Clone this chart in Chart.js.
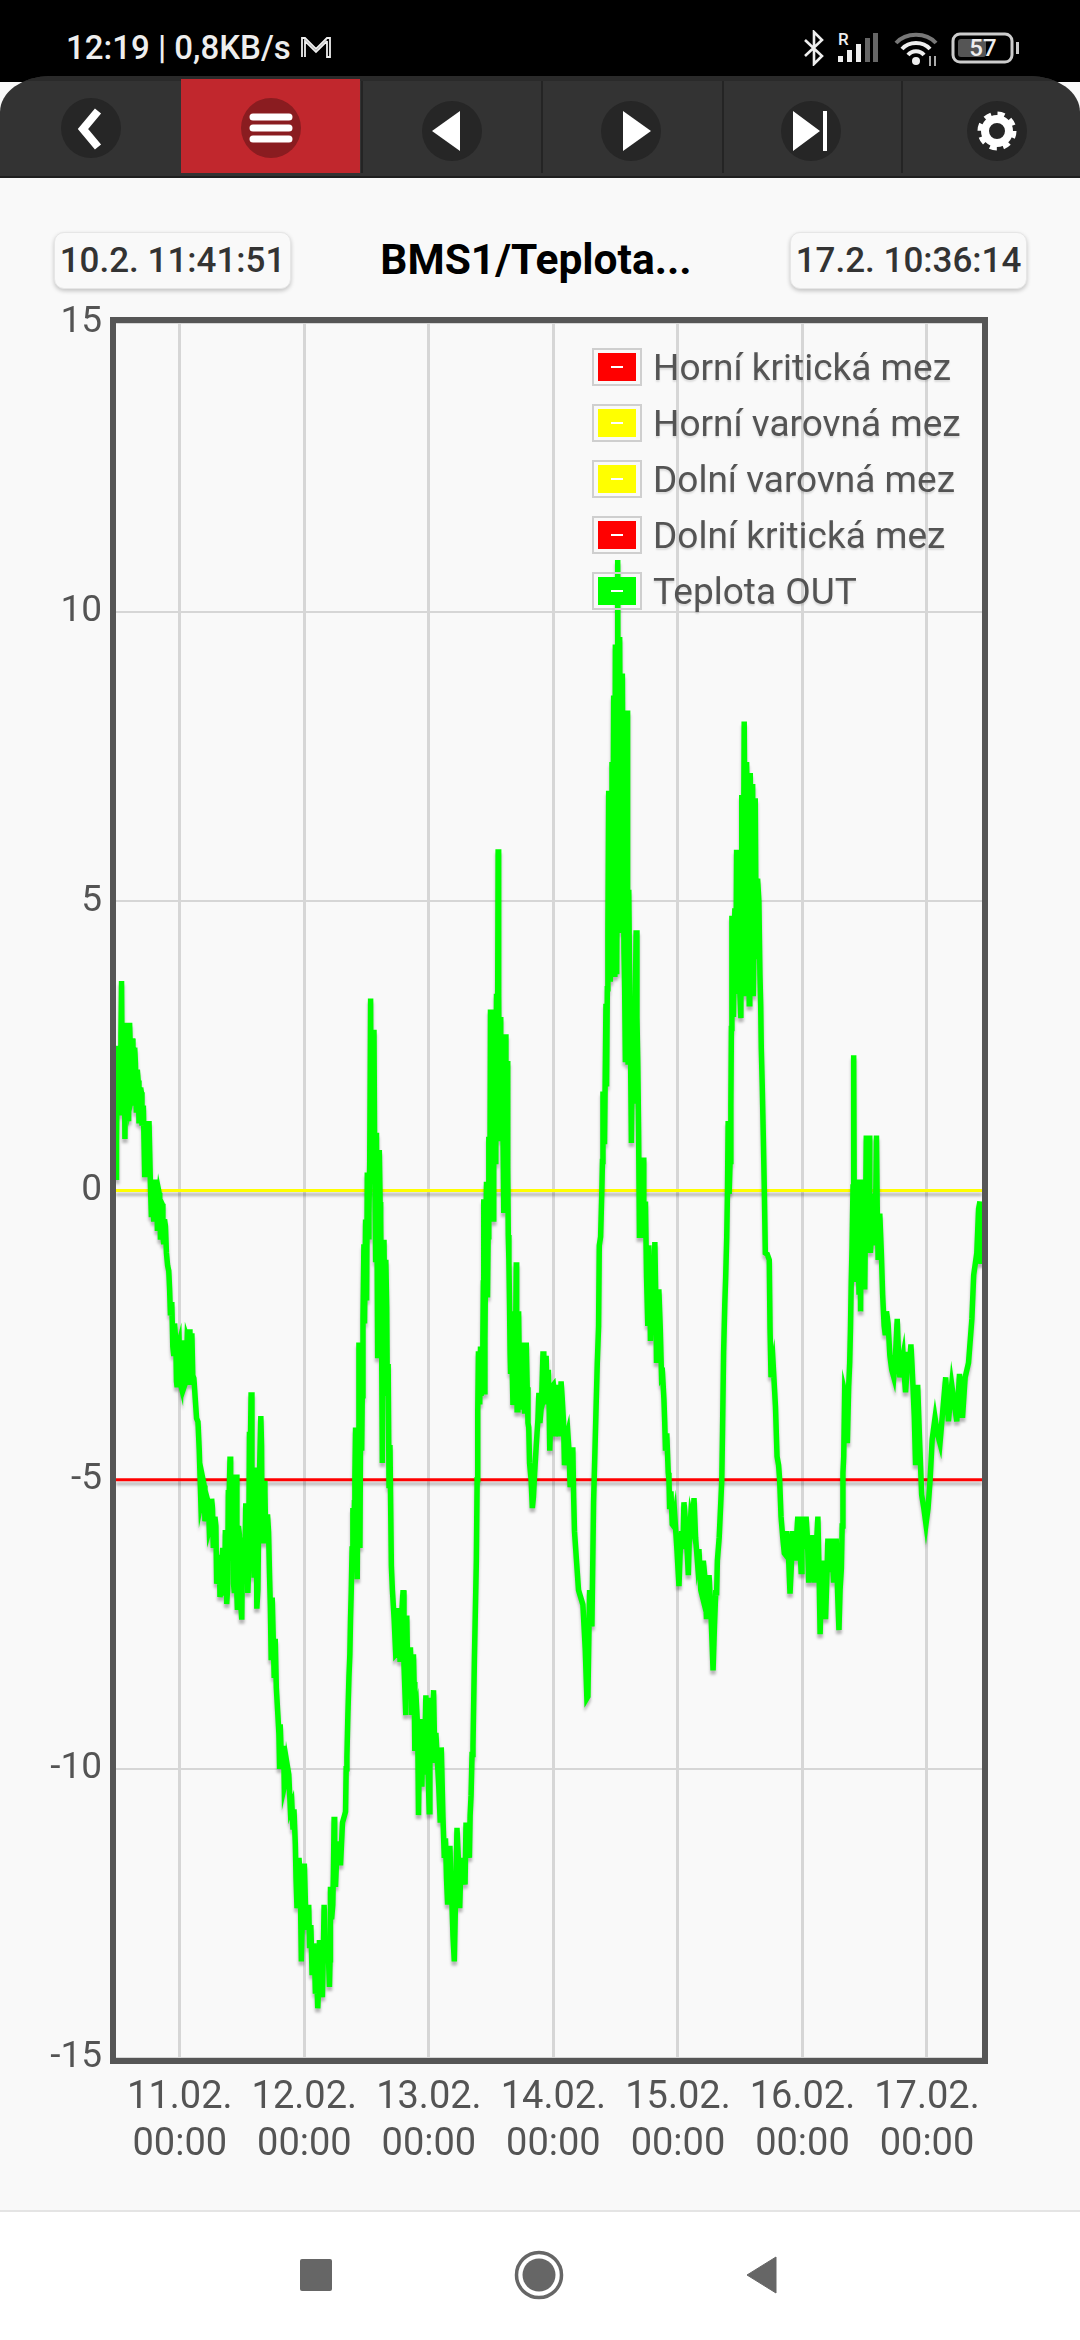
<!DOCTYPE html>
<html lang="cs">
<head>
<meta charset="utf-8">
<title>BMS1/Teplota</title>
<script src="https://cdn.jsdelivr.net/npm/chart.js@4"></script>
<style>
html, body { margin: 0; padding: 0; width: 1080px; height: 2340px; overflow: hidden; background: #f9f9f9; font-family: Roboto, sans-serif; }
.abs, svg.abs { position: absolute; }
#statusbar { left: 0; top: 0; width: 1080px; height: 82px; background: #000; }
#statustext { left: 66px; top: 28px; color: #eee; font-size: 33px; font-weight: 500; line-height: 40px; white-space: nowrap; }
#toolbar { left: 0; top: 76px; width: 1080px; height: 102px; background: #333; border-radius: 50px 50px 0 0 / 36px 36px 0 0; border-bottom: 2px solid #1f1f1f; box-sizing: border-box; overflow: hidden; }
#strip { left: 0; top: 0; width: 1080px; height: 5px; background: #2a2a2a; }
.divider { top: 5px; width: 2px; height: 92px; background: #242424; }
#red { left: 181px; top: 3px; width: 179px; height: 94px; background: #c1272d; }
.datebtn { top: 232px; width: 235px; height: 55px; border: 1px solid #e6e6e6; border-radius: 10px; box-shadow: 0 2px 4px rgba(0,0,0,.22); background: #f9f9f9; color: #333; font-size: 35px; font-weight: 500; line-height: 55px; text-align: center; white-space: nowrap; }
#title { left: 340px; width: 392px; top: 232px; text-align: center; color: #000; font-size: 42.5px; font-weight: 700; line-height: 56px; white-space: nowrap; }
#graf { position: absolute; left: 0; top: 282px; }
#legenda { left: 592px; top: 339px; }
.radek { display: flex; align-items: center; height: 56px; color: #545454; font-size: 37px; text-shadow: 0 2px 2px rgba(0,0,0,.12); white-space: nowrap; }
.box { box-sizing: border-box; width: 50px; height: 38px; border: 2px solid #cfcfcf; padding: 3px 4px; margin-right: 11px; }
.fill { width: 38px; height: 28px; position: relative; }
.fill i { position: absolute; left: 13px; top: 13px; width: 12px; height: 2px; background: #fff; }
#navbar { left: 0; top: 2210px; width: 1080px; height: 130px; background: #fff; border-top: 2px solid #e4e4e4; box-sizing: border-box; }
</style>
</head>
<body>
<div id="statusbar" class="abs"></div>
<div id="statustext" class="abs">12:19 | 0,8KB/s</div>
<svg class="abs" style="left:300px;top:35px" width="32" height="24" viewBox="0 0 32 24"><path d="M2 22V3h3l11 11L27 3h3v19h-3V6M5 22V6l11 11L27 6" fill="none" stroke="#eee" stroke-width="1.8"/></svg>
<svg class="abs" style="left:802px;top:30px" width="24" height="36" viewBox="0 0 24 36"><path d="M3 10l17 16-8 8V2l8 8L3 26" fill="none" stroke="#eee" stroke-width="2.6"/></svg>
<svg class="abs" style="left:836px;top:30px" width="44" height="34" viewBox="0 0 44 34"><text x="2" y="15" fill="#eee" font-family="Roboto" font-size="17" font-weight="500">R</text><rect x="2" y="26" width="5" height="6" fill="#eee"/><rect x="11" y="20" width="5" height="12" fill="#eee"/><rect x="20" y="14" width="5" height="18" fill="#eee"/><rect x="29" y="8" width="5" height="24" fill="#666"/><rect x="37" y="3" width="5" height="29" fill="#666"/></svg>
<svg class="abs" style="left:893px;top:30px" width="46" height="38" viewBox="0 0 46 38" fill="none"><path d="M3 13C13 2 33 2 43 13" stroke="#777" stroke-width="4"/><path d="M9 19C16 11 30 11 37 19" stroke="#eee" stroke-width="4"/><path d="M15 25C19 20 27 20 31 25" stroke="#eee" stroke-width="4"/><circle cx="23" cy="31" r="4" fill="#eee"/><path d="M37 26v10M42 26v10" stroke="#aaa" stroke-width="2"/></svg>
<svg class="abs" style="left:950px;top:31px" width="72" height="34" viewBox="0 0 72 34"><rect x="3" y="3" width="59" height="28" rx="7" fill="none" stroke="#ccc" stroke-width="3"/><rect x="8" y="8" width="28" height="18" rx="3" fill="#555"/><rect x="66" y="11" width="3" height="12" fill="#ccc"/><text x="33" y="25" text-anchor="middle" fill="#eee" font-family="Roboto" font-size="24" font-weight="500">57</text></svg>

<div id="toolbar" class="abs">
  <div id="strip" class="abs"></div>
  <div id="red" class="abs"></div>
  <div class="abs divider" style="left:361px"></div>
  <div class="abs divider" style="left:541px"></div>
  <div class="abs divider" style="left:722px"></div>
  <div class="abs divider" style="left:901px"></div>
</div>
<svg class="abs" style="left:0;top:90px" width="1080" height="84" viewBox="0 90 1080 84">
  <circle cx="91" cy="128" r="30" fill="#262626"/><path d="M98 111l-15 18 15 18" fill="none" stroke="#fff" stroke-width="8"/>
  <circle cx="271" cy="128" r="30" fill="#8a1c20"/><path d="M253 117h36M253 128h36M253 139h36" stroke="#fff" stroke-width="7" stroke-linecap="round"/>
  <circle cx="452" cy="131" r="30" fill="#262626"/><path d="M460 111v40l-28-20z" fill="#fff"/>
  <circle cx="631" cy="131" r="30" fill="#262626"/><path d="M623 111v40l28-20z" fill="#fff"/>
  <circle cx="811" cy="131" r="30" fill="#262626"/><path d="M793 111v40l27-20zM823 111h4v40h-4z" fill="#fff"/>
  <circle cx="997" cy="131" r="30" fill="#262626"/><circle cx="997" cy="131" r="12" fill="none" stroke="#fff" stroke-width="8"/><circle cx="997" cy="131" r="17" fill="none" stroke="#fff" stroke-width="5" stroke-dasharray="7 6.35"/>
</svg>

<div class="abs datebtn" style="left:54px">10.2. 11:41:51</div>
<div id="title" class="abs">BMS1/Teplota...</div>
<div class="abs datebtn" style="left:790px">17.2. 10:36:14</div>

<canvas id="graf" width="1080" height="1918"></canvas>
<div id="legenda" class="abs"></div>

<div id="navbar" class="abs"></div>
<svg class="abs" style="left:290px;top:2245px" width="500" height="60" viewBox="290 2245 500 60"><rect x="300" y="2259" width="32" height="32" rx="2" fill="#666"/><circle cx="539" cy="2275" r="22.5" fill="none" stroke="#666" stroke-width="3.5"/><circle cx="539" cy="2275" r="16.5" fill="#666"/><path d="M776 2257v36l-29-18z" fill="#666" stroke="#666" stroke-linejoin="round"/></svg>

<script>
// hodiny od 11.02. 00:00
const hodiny = [
  -12.3,-12.2,-12.06,-11.74,-11.5,-11.23,-10.97,-10.84,-10.58,-10.39,
  -10.13,-9.87,-9.68,-9.42,-9.16,-8.9,-8.7,-8.39,-8.19,-7.87,
  -7.55,-7.29,-7.03,-6.77,-6.52,-6.26,-5.94,-5.68,-5.48,-5.29,
  -5.03,-4.77,-4.52,-4.32,-4,-3.74,-3.42,-3.1,-2.77,-2.58,
  -2.13,-1.81,-1.55,-1.16,-.77,-.52,-.13,.19,.65,.97,
  1.42,1.81,2.06,2.32,2.71,3.23,3.74,4.06,4.52,4.84,
  5.29,5.68,6.13,6.45,6.77,7.1,7.42,7.74,8.26,8.52,
  8.77,9.03,9.35,9.68,9.94,10.19,10.52,10.84,11.1,11.48,
  11.94,12.32,12.71,13.1,13.42,13.74,14.06,14.32,14.58,14.84,
  15.23,15.61,15.87,16.26,16.58,16.9,17.29,17.61,17.81,18.19,
  18.39,18.9,19.23,19.35,19.87,20.13,20.65,21.6,21.81,22.26,
  22.58,22.97,23.42,23.74,24,24.39,24.84,25.48,25.81,26.13,
  26.58,26.9,27.48,27.81,28.26,28.84,29.03,29.48,29.74,30,
  30.45,30.97,31.35,31.94,32.06,32.39,32.77,33.03,33.35,33.74,
  33.87,34.19,34.52,34.71,35.16,35.48,36.13,36.45,36.77,37.1,
  37.42,37.74,38.13,38.45,38.71,39.03,39.35,39.87,40,40.32,
  40.77,40.97,41.61,42.06,42.45,43.03,43.55,43.74,44.19,44.71,
  45.03,45.29,45.68,46,46.32,46.65,47.42,48.06,48.39,48.9,
  49.35,50.19,50.39,50.97,51.61,52.06,52.45,52.9,53.42,53.94,
  54.32,54.97,55.16,55.81,56.13,56.32,56.77,57.3,57.55,57.8,
  58.06,58.4,58.58,58.71,58.9,59.1,59.3,59.55,59.74,59.87,
  60.1,60.3,60.45,60.65,60.9,61.03,61.35,61.55,61.75,61.95,
  62.2,62.4,62.55,62.77,62.97,63.1,63.3,63.55,63.74,64.2,
  64.5,64.84,65,65.29,65.55,65.99,66.45,66.77,67.1,67.4,
  67.94,68.39,69.03,69.4,70,70.3,70.6,71.03,71.3,72,
  72.32,72.77,72.97,73.48,73.94,74.13,74.77,75.23,75.74,76.06,
  76.84,77.68,78.13,78.45,78.65,78.97,79.42,79.74,80.19,80.71,
  80.84,81.35,81.55,82.13,82.39,82.65,82.97,83.29,83.61,83.74,
  83.94,84.2,84.39,84.58,84.77,85.03,85.29,85.6,85.87,86.19,
  86.39,86.65,87.03,87.3,87.55,87.94,88.26,88.58,88.97,89.29,
  89.42,89.74,90.19,90.39,90.7,91.16,91.55,91.87,92.32,92.84,
  93.3,93.6,94.13,94.4,94.9,95.4,96.2,96.7,97.16,98,
  98.45,99.1,99.74,100.4,100.9,101.5,102,102.77,103.3,103.6,
  104.26,104.6,105.03,105.4,105.68,105.87,106.2,106.4,106.97,107.3,
  108.13,108.3,108.77,109.1,109.23,109.74,109.94,110.4,110.52,110.9,
  111.35,111.8,112.06,112.45,112.84,113.6,113.94,114.8,115.4,115.87,
  116.5,116.97,117.6,118.1,119.1,119.74,120.06,120.7,121.2,122,
  122.3,122.97,123.4,123.9,124.45,124.9,125.55,126,126.5,127.03,
  127.5,127.8,128.13,128.65,129.1,129.4,129.74,129.87,130.1,130.4,
  131.2,131.35,132,132.3,132.84,133.1,133.6,133.94,134.26,134.58,
  135.2,135.74,136.2,136.84,137.6,138.26,138.77,139.4,139.87,140.4,
  140.9,141.35,141.8,142.2,142.97,143.8,144.6,145.55,146.5,147.6,
  148.13,148.77,149.74,150.26,150.84,151.35,152,152.65,153,153.6,
  153.94,154.2,154.4,154.6
];
const teplotaOut = [
  .23,.85,2.16,1.47,2.24,3.62,1.62,2.78,.89,2.9,
  1.85,1.2,2.9,1.55,2.63,1.47,2.47,1.39,2.09,1.16,
  1.78,1.12,1.47,.23,1.2,.39,1.2,.15,-.46,.19,
  -.54,-.15,.19,-.7,-.04,-.85,-.23,-.93,-.62,-1.08,
  -1.39,-2.16,-1.93,-2.86,-2.63,-3.4,-2.63,-3.36,-2.59,-3.36,
  -2.55,-2.4,-3.36,-2.47,-3.25,-3.94,-4.48,-5.41,-5.02,-5.72,
  -5.33,-5.87,-5.33,-6.18,-5.64,-6.8,-6.49,-7.03,-6.18,-6.96,
  -5.87,-7.15,-5.18,-4.6,-6.26,-5.1,-6.96,-4.91,-7.25,-5.95,
  -7.42,-6.65,-5.41,-6.96,-4.17,-3.49,-4.95,-6.65,-4.79,-7.23,
  -5.49,-3.9,-6.1,-5.02,-6.1,-5.6,-6.65,-8.12,-7.04,-8.43,
  -7.75,-9.07,-10,-9.23,-9.94,-10.31,-9.91,-10.62,-11.05,-11.3,
  -12.41,-11.54,-13.33,-12.04,-11.64,-12.78,-12.35,-13.52,-13.02,-13.89,
  -14.14,-12.96,-13.95,-12.35,-13.33,-13.77,-12.04,-12.35,-10.83,-12.04,
  -11.3,-11.67,-10.93,-10.74,-10,-9.07,-8.02,-6.96,-5.49,-4.95,
  -4.1,-6.72,-2.63,-6.18,-3.55,-.93,.31,-.39,3.32,1.47,
  2.78,-1.24,-2.9,.7,-.46,-4.71,-.85,-2.01,-3.55,-5.1,
  -6.49,-6.91,-8.02,-7.22,-8.15,-6.91,-9.07,-7.35,-8.15,-9.07,
  -8.02,-9.69,-9.01,-10.8,-9.14,-10.31,-8.73,-10.74,-8.77,-8.64,
  -9.38,-10.93,-9.63,-11.54,-12.35,-11.33,-12.35,-13.33,-11.02,-12.41,
  -11.54,-12,-10.93,-11.54,-10.46,-9.75,-8.12,-5,-2.78,-3.7,
  -3.55,-2.55,-.15,-3.48,-1.47,.15,-1.85,.93,-.46,3.13,
  1.08,2.47,-.54,2.24,1.47,3.4,5.9,1.9,3,.93,
  2.63,-.39,2.24,2.7,-.31,2.24,-.77,-2.01,-3.17,-3.71,
  -2.09,-1.24,-3.79,-2.09,-3.79,-2.63,-3.86,-2.63,-4.02,-4.71,
  -5.49,-4.87,-3.94,-4.02,-2.78,-3.55,-2.86,-3.1,-4.5,-3.36,
  -4.25,-3.36,-4.25,-3.3,-3.99,-4.75,-4.18,-5.13,-4.44,-5.89,
  -6.91,-7.16,-7.92,-8.78,-8.75,-6.91,-7.54,-5.39,-3.87,-2.34,
  -.95,.06,1.71,3.23,3.49,6.91,3.61,7.41,8.56,3.74,
  9.44,3.74,10.9,5.26,9.57,4.5,8.94,4.12,2.22,8.3,
  2.22,3.99,.82,2.47,1.96,4.5,2.22,-.82,.44,.57,
  -.82,-.19,-2.34,-.95,-2.6,-1.46,-.89,-2.98,-1.71,-3.23,
  -3.61,-4.5,-4.88,-5.51,-5.77,-5.64,-6.84,-5.89,-5.39,-6.65,
  -5.64,-5.32,-6.4,-6.91,-6.4,-7.41,-6.65,-8.3,-6.91,-6.4,
  -5.39,-4.12,-1.96,-.82,1.2,-.06,1.46,4.75,4.88,5.89,
  2.98,6.84,8.11,3.36,7.41,3.23,7.22,7.03,3.36,6.78,
  5.39,3.74,2.47,.95,-1.08,-1.2,-3.23,-3.74,-4.75,-5.64,
  -6.27,-5.89,-6.97,-5.89,-5.64,-6.59,-5.64,-5.64,-6.78,-5.96,
  -6.78,-5.64,-7.67,-6.4,-7.41,-6.02,-6.02,-6.78,-6.02,-7.6,
  -6.53,-4.88,-3.49,-4.37,-2.98,-1.58,.06,2.34,-1.58,.19,
  -2.09,.19,-1.71,.95,.95,-1.08,-.06,-.95,.95,-1.2,
  -1.08,-2.34,-2.09,-2.85,-3.23,-2.22,-3.23,-2.85,-3.49,-2.79,
  -2.66,-3.49,-4.75,-3.36,-5.26,-5.77,-5,-3.93,-4.37,-3.23,
  -3.99,-3.36,-3.99,-3.17,-3.93,-3.23,-2.98,-2.22,-1.46,-1.08,
  -.32,-.19,-1.27,-.19
];
// druhe cteni husteho pasma, stejne jednotky
const hodinyPasmo = [
  -11.9,-11.6,-11.35,-11.1,-10.7,-10.25,-10,-9.55,-9.3,-9.03,-8.8,-8.55,-8.29,-8.03,-7.7,-7.42,
  -4.9,-4.65,-4.16,-3.87,-3.58,-3.26,-2.95,-2.35,-1.97,-1.35,-1,-.65,-.33,.03,.35,.5,.8,1.2,1.6,1.95,2.2,2.5,
  3.5,4.3,4.7,5.05,5.5,5.9,6.3,6.6,6.95,7.25,7.6,8,8.4,8.65,8.9,9.2,9.5,9.8,10.05,10.35,10.7,11,11.3,11.7,12.1,12.5,12.9,13.25,13.6,13.9,14.2,14.45,14.7,15.05,15.4,15.75,16.05,16.4,16.75,17.1,17.45,
  18.6,19.1,19.6,20,20.4,21,21.3,22,22.4,
  22.8,23.2,23.55,24.2,24.6,25,25.25,25.65,25.97,26.35,26.75,27.2,27.65,28,28.5,28.95,29.25,29.6,29.85,30.2,30.7,
  32.2,32.6,32.9,33.2,33.5,33.65,34,34.35,34.6,34.9,35.05,35.3,35.6,35.8,36,36.3,36.6,36.9,37.25,37.55,37.9,38.3,38.6,38.85,39.2,39.5,39.7,40.15,40.5,
  41.3,41.8,42.25,42.7,43.2,43.95,44.45,44.85,45.15,45.5,45.85,46.15,46.5,46.85,47.1,47.7,47.9,48.2,48.6,49.1,49.6,49.9,
  50.7,51.2,51.4,51.8,52.25,52.65,53.15,53.7,54.1,54.6,55.4,55.6,55.95,56.5,
  57.15,57.42,57.68,57.95,58.25,58.5,58.8,59,59.2,59.42,59.65,
  59.95,60.2,60.37,60.55,60.75,61.15,61.25,61.45,61.65,61.85,62.05,62.3,62.47,62.65,62.85,63.03,63.2,63.42,63.65,63.95,
  64.35,64.67,64.92,65.15,65.42,65.75,66.2,66.6,66.95,67.25,67.7,68.15,68.7,69.2,69.7,70.15,70.45,70.8,71.15,71.65,
  72.15,72.55,72.87,73.2,73.7,74.45,75,75.5,75.9,
  80.45,81.1,81.45,81.85,82.25,82.5,82.8,83.12,83.45,83.67,83.84,
  84.07,84.3,84.48,84.67,84.9,85.15,85.45,85.73,86.03,86.3,86.52,86.85,87.17,87.43,87.75,88.1,88.42,88.78,89.13,89.58,
  89.95,90.3,90.55,90.93,91.35,91.7,92.1,92.6,93.05,93.45,93.85,94.27,94.65,95.15,95.8,96.45,96.95,97.6,98.2,98.8,99.4,100.05,100.65,101.2,101.75,102.4,103.05,103.45,103.95,
  104.45,104.8,105.2,105.55,106.05,106.3,106.7,107.15,107.5,107.7,107.9,
  108.2,108.55,108.93,109.15,109.5,109.63,109.85,110.15,110.3,110.7,111.1,111.6,111.95,112.25,112.65,113.2,113.75,114.35,115.1,115.6,
  116.2,116.75,117.3,117.85,118.6,119.4,119.9,120.4,120.95,121.6,122.15,122.65,123.2,123.65,124.2,124.7,125.2,125.8,126.25,126.75,127.25,
  127.65,127.95,128.4,128.9,129.25,129.55,129.97,
  130.25,130.6,130.9,131.1,131.6,131.8,132.15,132.55,132.7,132.97,133.35,133.77,134.1,134.42,134.9,
  135.45,135.97,136.5,137.2,137.9,138.5,139.1,139.63,140.15,140.65,141.1,141.55,142,142.6,143.4,144.2,145,146
];
const teplotaPasmo = [
  2.5,1.3,2.7,1.9,2.4,2.6,1.6,2.5,1.6,2.4,1.6,2.2,1.5,1.9,1.4,1.7,
  .1,-.5,-.2,-.1,-.2,-.8,-.5,-1.3,-1.7,-2.7,-2.3,-3.3,-2.7,-3.3,-2.7,-3.3,-2.7,-3.3,-2.6,-3.2,-2.6,-3.2,
  -4,-5.3,-5.1,-5.6,-5.4,-5.8,-5.5,-6.1,-5.8,-6.7,-6.3,-6.9,-6.3,-6.9,-6,-6.9,-5.3,-6.4,-5.4,-6.8,-5.2,-7,-5.8,-7.1,-6,-6.6,-5.6,-6.6,-4.4,-6.1,-5.1,-6.4,-5,-6.9,-4.7,-4.4,-5.9,-5.2,-5.9,-5.9,-7.2,
  -8.6,-9.4,-9.9,-9.6,-10.2,-10.1,-10.7,-10.7,-11.9,
  -12.2,-11.9,-12.8,-12.3,-12.6,-13.1,-12.7,-13.5,-13.3,-13.5,-13.8,-13.5,-13.2,-13,-12.9,-13.3,-12.6,-11.8,-11.6,-11.6,-11.3,
  -9.8,-8.4,-7.4,-6.2,-6.6,-5.4,-5.2,-4.4,-4.8,-3,-4.5,-2.2,-2.3,-.5,-1.9,-.8,.5,.2,.3,.6,1,-.4,-.2,-2,-1,-2.4,-1.2,-3,-4.4,
  -7.4,-8,-7.8,-7.4,-8.2,-8.5,-7.9,-8.8,-8.5,-9.1,-9.3,-9.8,-9.4,-9.2,-10.1,-9.4,-10.2,-9.2,-9.9,-9.6,-9.8,-10.3,
  -10.8,-11.2,-11.9,-11.8,-12,-12.9,-12.2,-11.6,-11.9,-11.8,-11.4,-11,-10.8,-9.6,
  -6.4,-3.8,-3.2,-2.7,-3.4,-1.6,-2.6,-.6,-1,-.8,.3,
  .6,2,.6,1.8,.5,.9,3,3.4,2.6,1.2,2.2,.8,1,.2,1.6,.8,.4,-1.2,-2.8,-2.6,
  -3.2,-3,-2.5,-3,-3,-3.2,-3.2,-3.3,-3.4,-4.1,-5,-5.3,-4.4,-3.5,-3.7,-3.2,-3.5,-3.7,-3.6,-3.4,
  -3.5,-4.1,-3.6,-4,-3.6,-4.3,-4.5,-4.9,-5.3,
  -3,-.8,.5,.8,1.8,4.5,4.4,5,5,5.5,5.8,
  5,6,7,6,7,5.6,6,3.5,4.5,4,5.2,2.5,2,1.5,3,3,1,0,-.4,-.6,
  -1.5,-1.6,-1.5,-2,-1.9,-1.7,-2.4,-2.4,-3.2,-4,-4.2,-5,-5.2,-5.8,-6.2,-6.2,-6.2,-5.9,-6,-5.8,-6,-6.2,-7,-6.7,-7.1,-7.4,-7.5,-7,-6,
  -5,-2.8,-1.5,0,.5,2.8,3,3.4,3.5,5.5,3.5,
  5,4,6,5,5.8,4,5.6,4,6,4.5,4,5,3.2,1.8,0,-1.1,-2.4,-3,-4.6,-5,
  -6,-6.3,-6.3,-6.5,-6.4,-6,-6,-6.2,-6,-6.3,-6.3,-6.2,-6.6,-6.8,-6.9,-6.7,-6.6,-6.4,-6.5,-6.9,-6.9,
  -5.8,-4.6,-3.6,-3.4,-2.4,-1,0,
  -1,-.4,-1.8,-.6,-.9,-1.2,-.5,-.8,.4,-.4,-.6,-.4,-.3,-.4,-.4,
  -1.8,-2.5,-2.3,-3.1,-2.9,-2.8,-3,-3.2,-3.1,-3,-3,-3.9,-4.1,-4.4,-5.5,-5.5,-4.3,-4.2
];
// 10.2. 11:41:51 az 17.2. 10:36:14
const rozsahHodin = [-12.3, 154.6];
const dolniVarovnaMez = [0, 0];
const dolniKritickaMez = [-5, -5];
const tickHodiny = [0, 24, 48, 72, 96, 120, 144];
const tickPopisky = [
  ["11.02.", "00:00"], ["12.02.", "00:00"], ["13.02.", "00:00"], ["14.02.", "00:00"],
  ["15.02.", "00:00"], ["16.02.", "00:00"], ["17.02.", "00:00"]
];

function body(xs, ys) {
  return ys.map((y, i) => ({ x: xs[i], y: y }));
}

// ramecek kolem grafu
const ramecek = {
  id: "ramecek",
  afterDraw(chart) {
    const a = chart.chartArea, c = chart.ctx;
    c.save();
    c.strokeStyle = "#565656";
    c.lineWidth = 6;
    c.strokeRect(a.left - 3, a.top - 3, a.width + 6, a.height + 6);
    c.restore();
  }
};

// stin pod carami
const stin = {
  id: "stin",
  beforeDatasetDraw(chart) {
    const c = chart.ctx;
    c.save();
    c.shadowColor = "rgba(0,0,0,0.28)";
    c.shadowBlur = 3;
    c.shadowOffsetY = 4;
  },
  afterDatasetDraw(chart) {
    chart.ctx.restore();
  }
};

// legenda je v html, prekryva graf vpravo nahore
const htmlLegenda = {
  id: "htmlLegenda",
  afterUpdate(chart) {
    const el = document.getElementById("legenda");
    el.innerHTML = "";
    chart.data.datasets.forEach(ds => {
      const r = document.createElement("div");
      r.className = "radek";
      r.innerHTML = '<div class="box"><div class="fill" style="background:' + ds.borderColor + '"><i></i></div></div>' + ds.label;
      el.appendChild(r);
    });
  }
};

const teplotaBody = body(hodiny, teplotaOut).concat(body(hodinyPasmo, teplotaPasmo)).sort((a, b) => a.x - b.x);

new Chart(document.getElementById("graf").getContext("2d"), {
  type: "line",
  data: {
    datasets: [
      { label: "Horní kritická mez", data: [], borderColor: "#ff0000", order: 1 },
      { label: "Horní varovná mez", data: [], borderColor: "#ffff00", order: 1 },
      { label: "Dolní varovná mez", data: body(rozsahHodin, dolniVarovnaMez), borderColor: "#ffff00", borderWidth: 3, order: 1 },
      { label: "Dolní kritická mez", data: body(rozsahHodin, dolniKritickaMez), borderColor: "#ff0000", borderWidth: 3, order: 1 },
      { label: "Teplota OUT", data: teplotaBody, borderColor: "#00ff00", borderWidth: 5.5, order: 0 }
    ]
  },
  plugins: [stin, ramecek, htmlLegenda],
  options: {
    responsive: false,
    devicePixelRatio: 1,
    animation: false,
    layout: { padding: { left: 0, top: 41, right: 98, bottom: 0 } },
    elements: { point: { radius: 0 }, line: { tension: 0, borderJoinStyle: "miter" } },
    plugins: { legend: { display: false }, tooltip: { enabled: false } },
    scales: {
      x: {
        type: "linear",
        min: rozsahHodin[0],
        max: rozsahHodin[1],
        afterBuildTicks: s => { s.ticks = tickHodiny.map(v => ({ value: v })); },
        afterFit: s => { s.height = 142; },
        grid: { color: "#d6d6d6", lineWidth: 3, drawTicks: false },
        border: { display: false },
        ticks: {
          autoSkip: false,
          maxRotation: 0,
          padding: 17,
          color: "#545454",
          font: { family: "Roboto", size: 38, lineHeight: 1.237 },
          callback: v => tickPopisky[tickHodiny.indexOf(v)]
        }
      },
      y: {
        min: -15,
        max: 15,
        afterFit: s => { s.width = 116; },
        grid: { color: "#d6d6d6", lineWidth: 2, drawTicks: false },
        border: { display: false },
        ticks: {
          stepSize: 5,
          padding: 14,
          color: "#545454",
          font: { family: "Roboto", size: 37 }
        }
      }
    }
  }
});
</script>
</body>
</html>
